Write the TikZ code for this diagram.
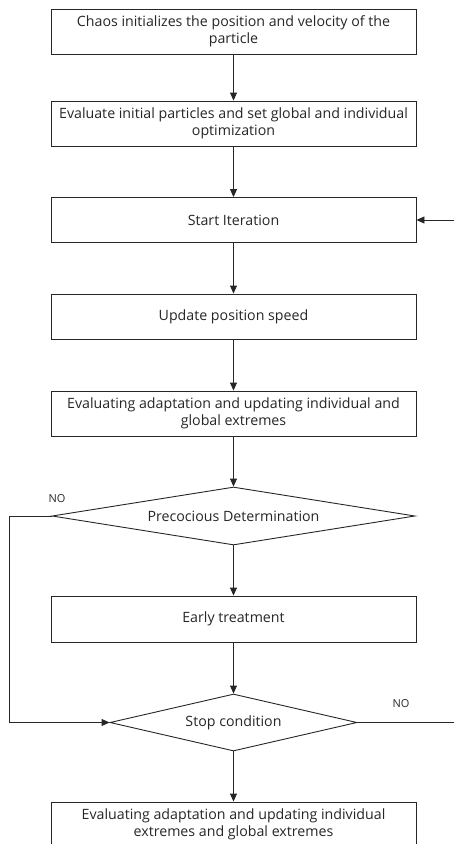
\documentclass[tikz,border=0pt]{standalone}
\usepackage{fontspec}
\setmainfont{Open Sans}
\usetikzlibrary{shapes.geometric,arrows.meta}
\begin{document}
\begin{tikzpicture}[x=1pt,y=-1pt,
  box/.style={draw=black!85, line width=0.9pt, minimum width=365pt, minimum height=45pt, inner sep=0pt, align=center, font=\fontsize{14.2}{17}\selectfont, text=black!85},
  dia/.style={draw=black!85, line width=0.9pt, diamond, inner sep=0pt, align=center, font=\fontsize{14.2}{17}\selectfont, text=black!85},
  arr/.style={line width=0.9pt, draw=black!85, -{Triangle[length=8pt,width=7pt]}},
  ln/.style={line width=0.9pt, draw=black!85},
  lab/.style={font=\fontsize{11}{13}\selectfont, text=black!85}]
\useasboundingbox (0,0) rectangle (454,844);
\clip (0,0) rectangle (454,844);
\node[box] (b1) at (233.5,31.5) {Chaos initializes the position and velocity of the\\particle};
\node[box] (b2) at (233.5,123.5) {Evaluate initial particles and set global and individual\\optimization};
\node[box] (b3) at (233.5,220) {Start Iteration};
\node[box] (b4) at (233.5,316.5) {Update position speed};
\node[box] (b5) at (233.5,413.5) {Evaluating adaptation and updating individual and\\global extremes};
\node[dia, aspect=6.26, minimum width=363pt, minimum height=58pt] (d1) at (233.5,516) {Precocious Determination};
\node[box, minimum height=46pt] (b6) at (233.5,619) {Early treatment};
\node[dia, aspect=4.33, minimum width=247pt, minimum height=57pt] (d2) at (233.5,722.5) {Stop condition};
\node[box] (b7) at (233.5,824.5) {Evaluating adaptation and updating individual\\extremes and global extremes};
\coordinate (rin) at (455,220);
\coordinate (rout) at (455,722.5);
\coordinate (lt) at (9,516);
\coordinate (lb) at (9,722.5);
\draw[arr] (b1) -- (b2);
\draw[arr] (b2) -- (b3);
\draw[arr] (b3) -- (b4);
\draw[arr] (b4) -- (b5);
\draw[arr] (b5) -- (d1);
\draw[arr] (d1) -- (b6);
\draw[arr] (b6) -- (d2);
\draw[arr] (d2) -- (b7);
\draw[arr] (d1.west) -- (lt) -- (lb) -- (d2.west);
\draw[ln] (d2.east) -- (rout);
\draw[arr] (rin) -- (b3.east);
\node[lab] (no1) at (57,499) {NO};
\node[lab] (no2) at (401,704) {NO};
\end{tikzpicture}
\end{document}
